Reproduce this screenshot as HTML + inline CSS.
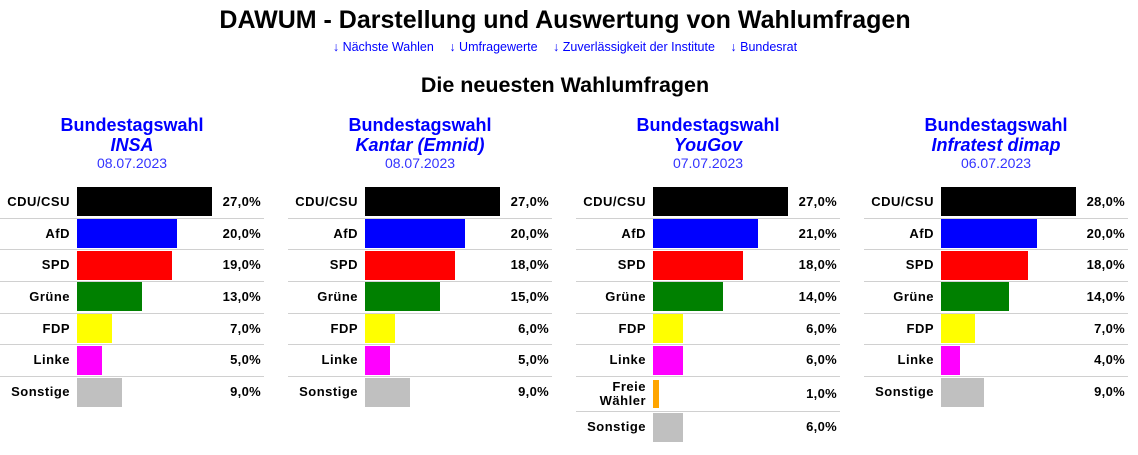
<!DOCTYPE html><html><head><meta charset="utf-8"><style>
body{margin:0;width:1138px;height:455px;background:#fff;font-family:"Liberation Sans",Arial,sans-serif;position:relative;overflow:hidden}
.a{position:absolute}
h1{position:absolute;left:0;width:1130px;top:6px;margin:0;text-align:center;font-size:25px;font-weight:bold}
.links{position:absolute;left:0;width:1130px;top:40px;text-align:center;font-size:12.5px;color:#00f}
.links span{margin:0 6px}
h2{position:absolute;left:0;width:1130px;top:73px;margin:0;text-align:center;font-size:21.5px;font-weight:bold}
.p{position:absolute;top:115px;width:264px}
.hd{text-align:center;color:#00f;font-size:18px;line-height:20px}
.hd b{display:block}
.hd i{display:block;font-weight:bold}
.hd s{display:block;text-decoration:none;font-size:14px;line-height:17px;color:#33f}
.r{position:absolute;left:0;width:264px;border-bottom:1px solid #d0d0d0;font-size:13px;font-weight:bold}
.r.last{border-bottom:none}
.l{position:absolute;right:194px;text-align:right;line-height:14px;letter-spacing:.5px}
.b{position:absolute;left:77px}
.v{position:absolute;right:3px;letter-spacing:.3px}
</style></head><body>
<h1>DAWUM - Darstellung und Auswertung von Wahlumfragen</h1>
<div class="links"><span>↓ Nächste Wahlen</span> <span>↓ Umfragewerte</span> <span>↓ Zuverlässigkeit der Institute</span> <span>↓ Bundesrat</span></div>
<h2>Die neuesten Wahlumfragen</h2>
<div id="c"></div>
<script>
const P=[
["INSA","08.07.2023",[["CDU/CSU",27],["AfD",20],["SPD",19],["Grüne",13],["FDP",7],["Linke",5],["Sonstige",9]]],
["Kantar (Emnid)","08.07.2023",[["CDU/CSU",27],["AfD",20],["SPD",18],["Grüne",15],["FDP",6],["Linke",5],["Sonstige",9]]],
["YouGov","07.07.2023",[["CDU/CSU",27],["AfD",21],["SPD",18],["Grüne",14],["FDP",6],["Linke",6],["Freie<br>Wähler",1],["Sonstige",6]]],
["Infratest dimap","06.07.2023",[["CDU/CSU",28],["AfD",20],["SPD",18],["Grüne",14],["FDP",7],["Linke",4],["Sonstige",9]]]];
const C={"CDU/CSU":"#000","AfD":"#00f","SPD":"#f00","Grüne":"#008000","FDP":"#ff0","Linke":"#f0f","Freie<br>Wähler":"#ffa500","Sonstige":"#c0c0c0"};
let h="";
P.forEach((p,i)=>{const x=i*288;const mx=Math.max(...p[2].map(r=>r[1]));
h+=`<div class="p" style="left:${x}px"><div class="hd"><b>Bundestagswahl</b><i>${p[0]}</i><s>${p[1]}</s></div></div>`;
let y=186;
p[2].forEach((r,j)=>{const hh=r[0].includes("<br>")?35:31.7;const last=j==p[2].length-1;
const bh=r[0].includes("<br>")?28:29;
h+=`<div class="r a${last?" last":""}" style="left:${x}px;top:${y}px;height:${hh}px">
<div class="l" style="top:${hh/2-(r[0].includes("<br>")?14:7)}px">${r[0]}</div>
<div class="b" style="top:${(hh-bh)/2}px;height:${bh}px;width:${r[0].includes("<br>")?6:Math.round(135*r[1]/mx)}px;background:${C[r[0]]}"></div>
<div class="v" style="top:${hh/2-8}px">${r[1]},0%</div></div>`;y+=hh;});
});
document.getElementById("c").innerHTML=h;
</script>
</body></html>
